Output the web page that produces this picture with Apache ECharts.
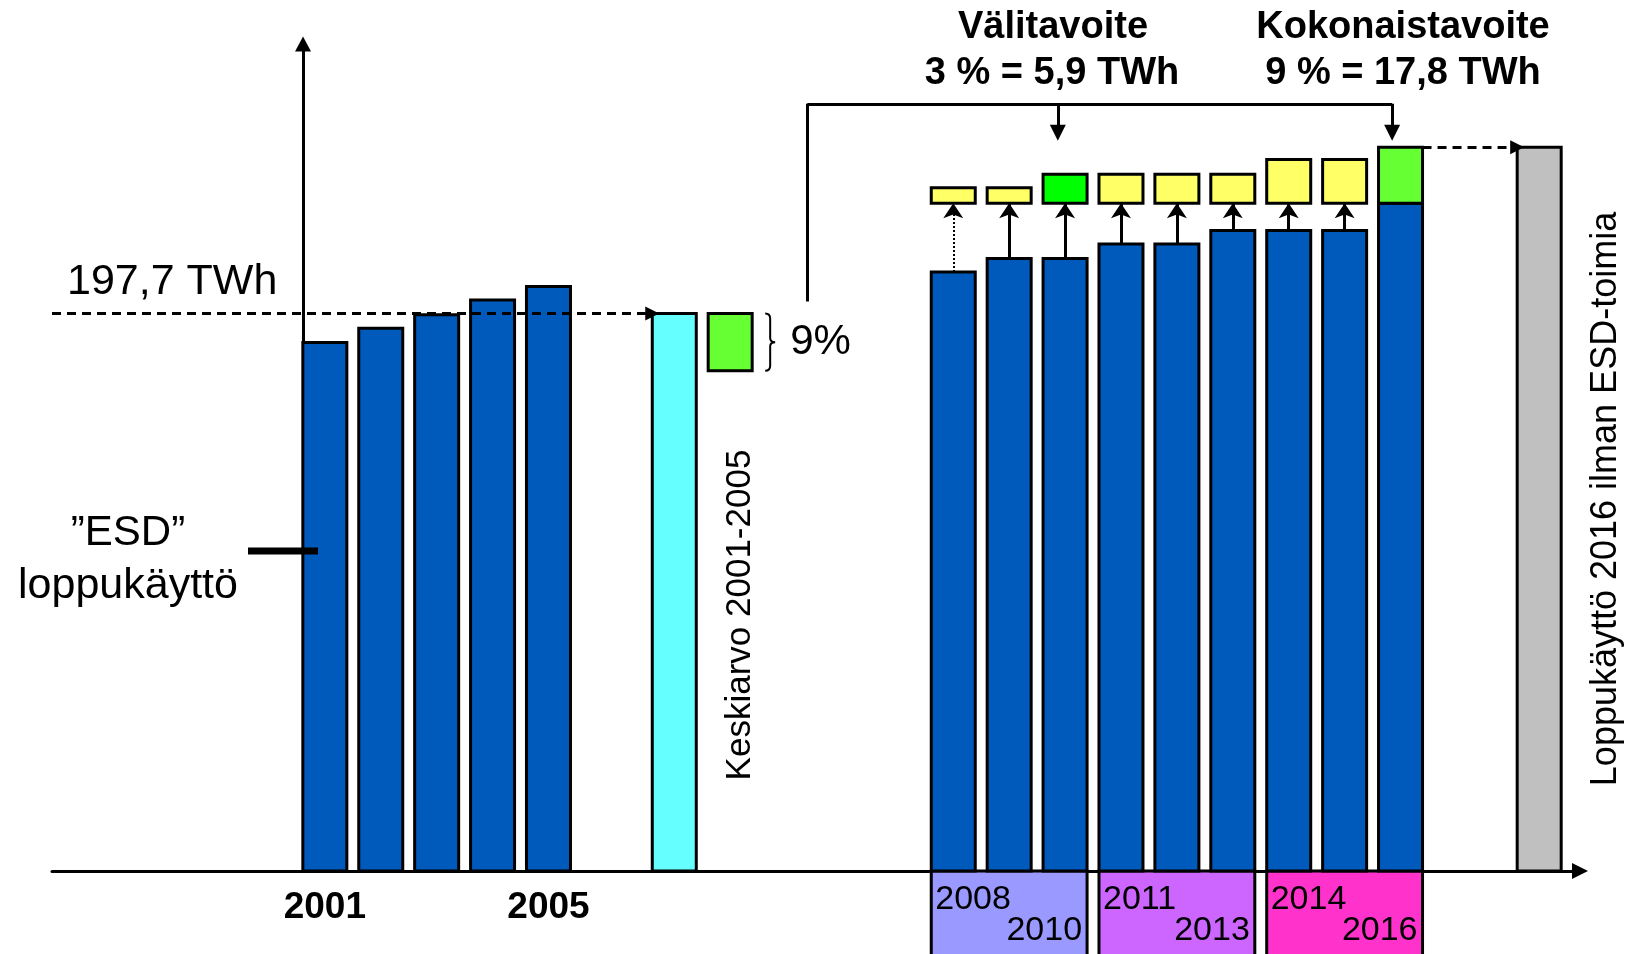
<!DOCTYPE html>
<html lang="fi">
<head>
<meta charset="UTF-8">
<title>ESD loppukäyttö</title>
<script src="https://cdn.jsdelivr.net/npm/echarts@6.0.0/dist/echarts.min.js"></script>
<style>
  html, body { margin: 0; padding: 0; background: #fff; }
  #chart { width: 1629px; height: 954px; }
</style>
</head>
<body>
<div id="chart"></div>
<script>
// --- data (TWh) ---
var yearsLeft = ['2001', '2002', '2003', '2004', '2005'];
var useLeft = [187.4, 192.5, 197.3, 202.5, 207.3];
var avgUse = 197.7;            // keskiarvo 2001-2005
var saving9Bottom = 177.4;     // lower edge of the 9 % box
var yearsRight = ['2008', '2009', '2010', '2011', '2012', '2013', '2014', '2015', '2016'];
var useRight = [212.4, 217.2, 217.2, 222.4, 222.4, 227.2, 227.2, 227.2, 236.8];
var targetTop = [242.3, 242.3, 247.1, 247.1, 247.1, 247.1, 252.3, 252.3, 256.7];
var use2016NoEsd = 256.7;
var periods = [['2008', '2010'], ['2011', '2013'], ['2014', '2016']];
var bracketTop = 272.1;
var arrowTip = 261.8;

// --- layout (x in bar pitches, y-axis at 0) ---
var BW = 0.787;
var X_MIN = -4.49, X_MAX = 22.84, Y_MAX = 293.3;
var xLeft0 = 0.39, xAvg = 6.64, xSave = 7.64, xRight0 = 11.63, xGray = 22.11;
var xBracket = 9.02, xMidArrow = 13.5, xEndArrow = 19.48;

var BLUE = '#005abb';
var FONT = '"Liberation Sans", Arial, sans-serif';

var dom = document.getElementById('chart');
var myChart = echarts.init(dom);

function rectOf(api, x, y0, y1) {
    var a = api.coord([x - BW / 2, y1]);
    var b = api.coord([x + BW / 2, y0]);
    return {x: a[0], y: a[1], width: b[0] - a[0], height: b[1] - a[1]};
}

function boxSeries(data, fillFn, extra) {
    return {
        type: 'custom',
        coordinateSystem: 'cartesian2d',
        encode: {x: 0, y: [1, 2]},
        data: data,
        z: 3,
        renderItem: function (params, api) {
            var x = api.value(0);
            var children = [{
                type: 'rect',
                shape: rectOf(api, x, api.value(1), api.value(2)),
                style: {fill: fillFn(params.dataIndex), stroke: '#000', lineWidth: 3}
            }];
            if (extra) {
                extra(params, api, children);
            }
            return {type: 'group', children: children};
        }
    };
}

function lineSeries(data, symbol, size) {
    return {
        type: 'lines',
        coordinateSystem: 'cartesian2d',
        z: 5,
        symbol: symbol,
        symbolSize: size,
        lineStyle: {color: '#000', width: 3, opacity: 1},
        data: data
    };
}

var lastR = useRight.length - 1;

// bar data built from the arrays
var leftData = useLeft.map(function (v, i) { return [xLeft0 + i, 0, v]; });
var rightData = useRight.map(function (v, i) { return [xRight0 + i, 0, v]; });
var targetData = targetTop.map(function (v, i) { return [xRight0 + i, useRight[lastR], v]; });
var periodData = periods.map(function (p, i) { return [xRight0 + 3 * i + 1, 0, 0]; });

// bracket from the 9 % box up to the targets
var plainLines = [
    {coords: [[xBracket, 202], [xBracket, bracketTop]]},
    {coords: [[xBracket, bracketTop], [xEndArrow, bracketTop]]}
];
var bracketArrows = [
    {coords: [[xMidArrow, bracketTop], [xMidArrow, arrowTip]]},
    {coords: [[xEndArrow, bracketTop], [xEndArrow, arrowTip]]}
];
var dashedArrows = [
    {coords: [[X_MIN, avgUse], [xAvg - BW / 2, avgUse]]},
    {coords: [[xRight0 + lastR + BW / 2, use2016NoEsd], [xGray - BW / 2, use2016NoEsd]]}
];
var savingArrows = [];
for (var i = 0; i < lastR; i++) {
    savingArrows.push({
        coords: [[xRight0 + i, useRight[i]], [xRight0 + i, useRight[lastR]]],
        lineStyle: i === 0 ? {type: 'dotted', width: 2} : {width: 3}
    });
}

var dashed = lineSeries(dashedArrows, ['none', 'triangle'], 14);
dashed.lineStyle.type = [9, 6];

var option = {
    animation: false,
    backgroundColor: '#fff',
    grid: {left: 52, right: 49, top: 44, bottom: 83},
    xAxis: {
        type: 'value', min: X_MIN, max: X_MAX,
        axisLine: {show: true, onZero: true, symbol: ['none', 'triangle'], symbolSize: [16, 16],
            lineStyle: {color: '#000', width: 3}},
        axisTick: {show: false}, axisLabel: {show: false}, splitLine: {show: false}
    },
    yAxis: {
        type: 'value', min: 0, max: Y_MAX,
        axisLine: {show: true, onZero: true, symbol: ['none', 'triangle'], symbolSize: [16, 15],
            lineStyle: {color: '#000', width: 3}},
        axisTick: {show: false}, axisLabel: {show: false}, splitLine: {show: false}
    },
    series: [
        // 2001-2005
        boxSeries(leftData, function () { return BLUE; }, function (params, api, children) {
            var i = params.dataIndex;
            if (i === 0 || i === yearsLeft.length - 1) {
                var p = api.coord([api.value(0), 0]);
                children.push({
                    type: 'text',
                    style: {text: yearsLeft[i], x: p[0], y: p[1] + 37, textAlign: 'center',
                        textVerticalAlign: 'middle', font: 'bold 37px ' + FONT, fill: '#000'}
                });
            }
        }),
        // keskiarvo
        boxSeries([[xAvg, 0, avgUse]], function () { return '#66ffff'; }),
        // 9 % box
        boxSeries([[xSave, saving9Bottom, avgUse]], function () { return '#66ff33'; }),
        // 2008-2016
        boxSeries(rightData, function () { return BLUE; }),
        boxSeries(targetData, function (i) {
            if (i === 2) return '#00ff00';
            if (i === lastR) return '#66ff33';
            return '#ffff66';
        }),
        // 2016 without ESD
        boxSeries([[xGray, 0, use2016NoEsd]], function () { return '#c0c0c0'; }),
        // period boxes under the axis
        {
            type: 'custom',
            coordinateSystem: 'cartesian2d',
            encode: {x: 0, y: [1, 2]},
            data: periodData,
            z: 2,
            renderItem: function (params, api) {
                var x = api.value(0);
                var a = api.coord([x - 1 - BW / 2, 0]);
                var b = api.coord([x + 1 + BW / 2, 0]);
                var colors = ['#9999ff', '#cc66ff', '#ff33cc'];
                var p = periods[params.dataIndex];
                return {
                    type: 'group',
                    children: [
                        {type: 'rect', shape: {x: a[0], y: a[1], width: b[0] - a[0], height: 90},
                            style: {fill: colors[params.dataIndex], stroke: '#000', lineWidth: 3}},
                        {type: 'text', style: {text: p[0], x: a[0] + 4, y: a[1] + 29, textAlign: 'left',
                            textVerticalAlign: 'middle', font: '34px ' + FONT, fill: '#000'}},
                        {type: 'text', style: {text: p[1], x: b[0] - 5, y: a[1] + 60, textAlign: 'right',
                            textVerticalAlign: 'middle', font: '34px ' + FONT, fill: '#000'}}
                    ]
                };
            }
        },
        // brace + 9 %
        {
            type: 'custom',
            coordinateSystem: 'cartesian2d',
            encode: {x: 0, y: [1, 2]},
            data: [[xSave, saving9Bottom, avgUse]],
            z: 4,
            renderItem: function (params, api) {
                var top = api.coord([0, api.value(2)])[1];
                var bot = api.coord([0, api.value(1)])[1];
                var x0 = api.coord([api.value(0) + BW / 2, 0])[0] + 13;
                var mid = (top + bot) / 2;
                var d = 'M' + x0 + ',' + top + ' Q' + (x0 + 5) + ',' + top + ' ' + (x0 + 5) + ',' + (top + 5) +
                    ' L' + (x0 + 5) + ',' + (mid - 4) + ' Q' + (x0 + 5) + ',' + mid + ' ' + (x0 + 10) + ',' + mid +
                    ' Q' + (x0 + 5) + ',' + mid + ' ' + (x0 + 5) + ',' + (mid + 4) +
                    ' L' + (x0 + 5) + ',' + (bot - 5) + ' Q' + (x0 + 5) + ',' + bot + ' ' + x0 + ',' + bot;
                return {
                    type: 'group',
                    children: [
                        {type: 'path', shape: {pathData: d}, style: {fill: 'none', stroke: '#000', lineWidth: 2}},
                        {type: 'text', style: {text: '9%', x: x0 + 25, y: mid, textAlign: 'left',
                            textVerticalAlign: 'middle', font: '42px ' + FONT, fill: '#000'}}
                    ]
                };
            }
        },
        lineSeries(plainLines, 'none', 0),
        lineSeries(bracketArrows, ['none', 'triangle'], 16),
        lineSeries(savingArrows, ['none', 'arrow'], 15),
        dashed
    ],
    graphic: [
        {type: 'text', x: 67, y: 282, style: {text: '197,7 TWh', font: '43px ' + FONT, fill: '#000',
            textAlign: 'left', textVerticalAlign: 'middle'}},
        {type: 'text', x: 128, y: 533, style: {text: '\u201dESD\u201d', font: '42px ' + FONT, fill: '#000',
            textAlign: 'center', textVerticalAlign: 'middle'}},
        {type: 'text', x: 128, y: 586, style: {text: 'loppukäyttö', font: '43px ' + FONT, fill: '#000',
            textAlign: 'center', textVerticalAlign: 'middle'}},
        {type: 'line', shape: {x1: 248, y1: 551, x2: 318, y2: 551}, style: {stroke: '#000', lineWidth: 7}, z: 10},
        {type: 'text', x: 1053, y: 28, style: {text: 'Välitavoite', font: 'bold 38px ' + FONT, fill: '#000',
            textAlign: 'center', textVerticalAlign: 'middle'}},
        {type: 'text', x: 1052, y: 74, style: {text: '3 % = 5,9 TWh', font: 'bold 38px ' + FONT, fill: '#000',
            textAlign: 'center', textVerticalAlign: 'middle'}},
        {type: 'text', x: 1403, y: 28, style: {text: 'Kokonaistavoite', font: 'bold 38px ' + FONT, fill: '#000',
            textAlign: 'center', textVerticalAlign: 'middle'}},
        {type: 'text', x: 1403, y: 74, style: {text: '9 % = 17,8 TWh', font: 'bold 38px ' + FONT, fill: '#000',
            textAlign: 'center', textVerticalAlign: 'middle'}},
        {type: 'text', x: 740, y: 615, rotation: Math.PI / 2, style: {text: 'Keskiarvo 2001-2005',
            font: '35px ' + FONT, fill: '#000', textAlign: 'center', textVerticalAlign: 'middle'}},
        {type: 'text', x: 1606, y: 499, rotation: Math.PI / 2, style: {text: 'Loppukäyttö 2016 ilman ESD-toimia',
            font: '36px ' + FONT, fill: '#000', textAlign: 'center', textVerticalAlign: 'middle'}}
    ]
};

myChart.setOption(option);
</script>
</body>
</html>
